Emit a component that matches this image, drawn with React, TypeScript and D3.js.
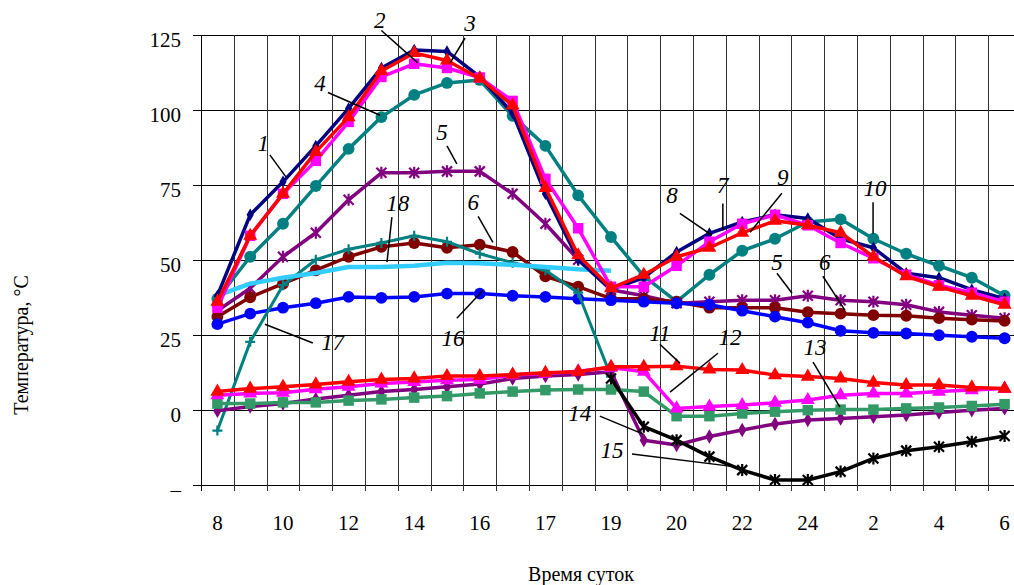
import React, { useEffect, useRef } from "react";
import * as d3 from "d3";

// time of day, one point per grid cell, label on every other point
const hourLabels = ["8", "10", "12", "14", "16", "17", "19", "20", "22", "24", "2", "4", "6"];
const yTicks = [-25, 0, 25, 50, 75, 100, 125];

// curves 1 / 8 (navy), 2 / 9 (red), 3 / 7 (magenta), 4 / 10 (teal)
const navy1 = [38, 65, 76, 88, 100.5, 114, 120, 119.5, 111, 99, 72, 50, 40, 44, 52.6, 58.8, 62.6, 65, 63.8, 57, 54, 45.5, 44, 40, 37];
const red2 = [36, 58, 72, 86, 97.6, 113, 119, 116.5, 110.5, 101.5, 74, 51.5, 40.5, 45, 51, 54, 59, 63, 61.5, 59, 51, 44.5, 41, 38, 35];
const magenta3 = [34, 58, 72, 83, 96, 111, 115.4, 114, 110.8, 103, 77, 60.5, 41, 41, 48, 56, 62, 65, 61.5, 55.6, 50.5, 45, 41.5, 39, 36];
const teal4 = [37, 51, 62, 74.6, 87, 97.6, 105, 109, 110, 98, 88, 71.5, 57.6, 44.5, 36, 45, 53, 57, 62.6, 63.5, 57, 52, 48, 44, 38];
// curves 5, 6, 16
const purple5 = [33, 40.5, 51, 59, 70, 79, 79, 79.5, 79.5, 72, 62, 50, 40, 38, 35.5, 36, 36.5, 36.5, 38, 36.5, 36, 35, 32.6, 31.5, 30.5];
const maroon6 = [31, 37.5, 42, 46.5, 51, 54.3, 55.6, 54, 55, 52.6, 44.5, 41, 37, 37, 36, 34, 34, 34, 32.5, 32, 31.5, 31.3, 30.5, 30, 29.6];
const blue16 = [28.5, 32, 34, 35.5, 37.6, 37.3, 37.6, 38.7, 38.7, 38, 37.6, 37, 36.5, 36, 35.5, 35, 33, 31, 29, 26.3, 25.6, 25.4, 24.8, 24.3, 23.8];
// curves 17, 18 stop at 19 h
const teal17 = [-7, 22.6, 41.5, 50, 53.5, 55.6, 58, 56, 52, 49, 46.5, 39, 11, null, null, null, null, null, null, null, null, null, null, null, null];
const cyan18 = [38, 42, 44, 45.6, 47.6, 47.6, 48, 49, 48.8, 48.3, 47.6, 46.8, 46.3, null, null, null, null, null, null, null, null, null, null, null, null];
// low curves 11 - 15
const red11 = [6, 7, 7.6, 8.4, 9.3, 10, 10.4, 11.2, 11.2, 11.7, 12.3, 12.6, 14.3, 14.3, 14.5, 13.4, 13.2, 11.5, 11, 10.4, 9, 8.2, 8.2, 7.4, 7];
const magenta12 = [4.8, 5.4, 5.6, 6.8, 7.6, 8.7, 9.2, 9.8, 10, 11.5, 12, 12.8, 14, 12.6, 0.4, 1, 1.5, 2.3, 3.2, 4.8, 5.4, 5.4, 6, 6.5, 7];
const green13 = [2, 2, 2.4, 2.4, 3, 3.4, 4, 4.5, 5.4, 6, 6.5, 6.7, 6.7, 6, -2.2, -2.2, -1.3, -0.7, -0.2, 0, 0, 0.4, 0.7, 1.2, 1.8];
const purple14 = [-0.4, 1, 2, 3.5, 4.8, 6, 6.7, 7.6, 8.5, 10.4, 11.2, 11.7, 12.6, -10.2, -11.8, -9, -6.8, -4.8, -3.5, -3, -2.4, -1.8, -1, -0.2, 0.4];
const black15 = [null, null, null, null, null, null, null, null, null, null, null, null, 10.4, -5.7, -10.2, -15.7, -20.2, -23.5, -23.5, -20.7, -16.3, -13.7, -12.4, -10.7, -8.8];

// curve number labels, in (point index, value) units: text, leader from, leader to
const notes: [string, number, number, number, number, number, number][] = [
  ["1", 1.4, 89, 1.6, 85, 2.1, 77.5],
  ["2", 4.95, 130, 5.0, 126.5, 6.1, 115.8],
  ["3", 7.7, 129, 7.55, 124, 7.1, 115.8],
  ["4", 3.13, 109, 3.37, 105.8, 4.96, 98.2],
  ["5", 6.85, 92.5, 7.0, 88, 7.3, 82],
  ["18", 5.5, 68.8, 5.32, 64.2, 5.17, 49.2],
  ["6", 7.8, 69.2, 7.95, 64.5, 8.4, 55.8],
  ["16", 7.18, 23.8, 7.3, 30.5, 8.1, 39.8],
  ["17", 3.52, 22.5, 1.45, 28.5, 2.91, 22.2],
  ["8", 13.86, 71.5, 14.1, 65.5, 15.07, 58.2],
  ["7", 15.41, 74.8, 15.41, 68.8, 15.41, 59.8],
  ["9", 17.24, 77.5, 17.21, 72.2, 16.24, 59.2],
  ["10", 20.05, 73.8, 19.99, 69.2, 19.99, 58.8],
  ["5", 17.06, 49.2, 17.06, 45.5, 17.52, 38.8],
  ["6", 18.52, 49.2, 18.46, 44.5, 19.13, 33.2],
  ["11", 13.49, 25.5, 13.49, 21.8, 14.1, 15.5],
  ["12", 15.63, 24.2, 15.26, 18.8, 13.8, 5.8],
  ["13", 18.22, 20.8, 18.16, 15.8, 18.98, 0.8],
  ["14", 11.05, -1.2, 11.66, -2.2, 12.98, -8.2],
  ["15", 12.03, -13.5, 12.64, -14.8, 15.87, -19.2],
];

const FONT = "'Liberation Serif', 'Times New Roman', serif";

const series = [
  { values: teal4, color: "#008080", width: 3.5, marker: "circle" },
  { values: purple5, color: "#800080", width: 3.5, marker: "star" },
  { values: maroon6, color: "#800000", width: 3.5, marker: "circle" },
  { values: blue16, color: "#0000ff", width: 3.5, marker: "circle" },
  { values: teal17, color: "#008080", width: 3, marker: "plus" },
  { values: cyan18, color: "#33ccff", width: 4.5, marker: "none" },
  { values: navy1, color: "#000080", width: 3.5, marker: "diamondSmall" },
  { values: magenta3, color: "#ff00ff", width: 3.5, marker: "square" },
  { values: red2, color: "#ff0000", width: 3.5, marker: "triangle" },
  { values: purple14, color: "#800080", width: 3.5, marker: "diamond" },
  { values: green13, color: "#339966", width: 3.5, marker: "square" },
  { values: magenta12, color: "#ff00ff", width: 3.5, marker: "triangle" },
  { values: red11, color: "#ff0000", width: 3.5, marker: "triangle" },
  { values: black15, color: "#000000", width: 3.5, marker: "star" },
];

export default function App() {
  const ref = useRef<SVGSVGElement>(null);

  useEffect(() => {
    const svg = d3.select(ref.current);
    svg.selectAll("*").remove();

    const left = 201, top = 35, bottom = 484.5, right = 1021;
    const idx = d3.range(25);
    const x = d3.scalePoint<number>().domain(idx).range([left, right]).padding(0.5);
    const step = x.step();
    const xi = d3.scaleLinear().domain([0, 24]).range([x(0)!, x(24)!]);
    const y = d3.scaleLinear().domain([-25, 125]).range([bottom, top]);

    // grid
    const grid = svg.append("g").attr("shape-rendering", "crispEdges");
    grid.selectAll("line.h")
      .data(yTicks)
      .join("line")
      .attr("x1", left - 8).attr("x2", right)
      .attr("y1", d => Math.round(y(d))).attr("y2", d => Math.round(y(d)))
      .attr("stroke", "#000").attr("stroke-width", 1);
    grid.selectAll("line.v")
      .data(d3.range(26))
      .join("line")
      .attr("x1", i => Math.round(x(0)! - step / 2 + i * step))
      .attr("x2", i => Math.round(x(0)! - step / 2 + i * step))
      .attr("y1", top).attr("y2", bottom + 6)
      .attr("stroke", (i) => (i === 0 ? "#000" : "#333")).attr("stroke-width", 1);

    // axis labels
    svg.append("g").selectAll("text")
      .data(yTicks)
      .join("text")
      .attr("x", 181).attr("y", d => y(d) + 12)
      .attr("text-anchor", "end")
      .style("font-family", FONT).style("font-size", "21px")
      .text(d => (d < 0 ? "–" : String(d)));

    svg.append("g").selectAll("text")
      .data(hourLabels)
      .join("text")
      .attr("x", (_, i) => x(i * 2)!).attr("y", 530)
      .attr("text-anchor", "middle")
      .style("font-family", FONT).style("font-size", "21px")
      .text(d => d);

    svg.append("text")
      .attr("transform", "translate(28,345) rotate(-90)")
      .attr("text-anchor", "middle")
      .style("font-family", FONT).style("font-size", "20px")
      .text("Температура, °С");

    svg.append("text")
      .attr("x", 581).attr("y", 581)
      .attr("text-anchor", "middle")
      .style("font-family", FONT).style("font-size", "20px")
      .text("Время суток");

    // curves
    const line = d3.line<number | null>()
      .defined(d => d != null)
      .x((_, i) => x(i)!)
      .y(d => y(d as number));

    const symbols: Record<string, string | null> = {
      circle: d3.symbol(d3.symbolCircle, 110)(),
      square: d3.symbol(d3.symbolSquare, 110)(),
      triangle: d3.symbol(d3.symbolTriangle, 85)(),
      diamond: d3.symbol(d3.symbolDiamond, 60)(),
      diamondSmall: d3.symbol(d3.symbolDiamond, 45)(),
      star: "M-5,-5L5,5M-5,5L5,-5M0,-6L0,6",
      plus: "M-5,0L5,0M0,-5L0,5",
    };

    series.forEach(s => {
      const g = svg.append("g");
      g.append("path")
        .attr("d", line(s.values))
        .attr("fill", "none")
        .attr("stroke", s.color)
        .attr("stroke-width", s.width)
        .attr("stroke-linejoin", "round");
      if (s.marker === "none") return;
      const pts = s.values.map((v, i) => ({ v, i })).filter(p => p.v != null);
      const stroked = s.marker === "star" || s.marker === "plus";
      g.selectAll("path.m")
        .data(pts)
        .join("path")
        .attr("class", "m")
        .attr("d", symbols[s.marker])
        .attr("transform", p => `translate(${x(p.i)},${y(p.v as number)})`)
        .attr("fill", stroked ? "none" : s.color)
        .attr("stroke", s.color)
        .attr("stroke-width", stroked ? 2.2 : 0);
    });

    // curve numbers with leaders
    const ng = svg.append("g");
    ng.selectAll("line")
      .data(notes)
      .join("line")
      .attr("x1", d => xi(d[3])).attr("y1", d => y(d[4]))
      .attr("x2", d => xi(d[5])).attr("y2", d => y(d[6]))
      .attr("stroke", "#000").attr("stroke-width", 1.5);
    ng.selectAll("text")
      .data(notes)
      .join("text")
      .attr("x", d => xi(d[1])).attr("y", d => y(d[2]))
      .attr("dy", "0.35em")
      .attr("text-anchor", "middle")
      .style("font-family", FONT).style("font-size", "23px").style("font-style", "italic")
      .text(d => d[0]);
  }, []);

  return (
    <svg
      ref={ref}
      width={1014}
      height={585}
      style={{ position: "absolute", left: 0, top: 0, background: "#fff" }}
    />
  );
}
